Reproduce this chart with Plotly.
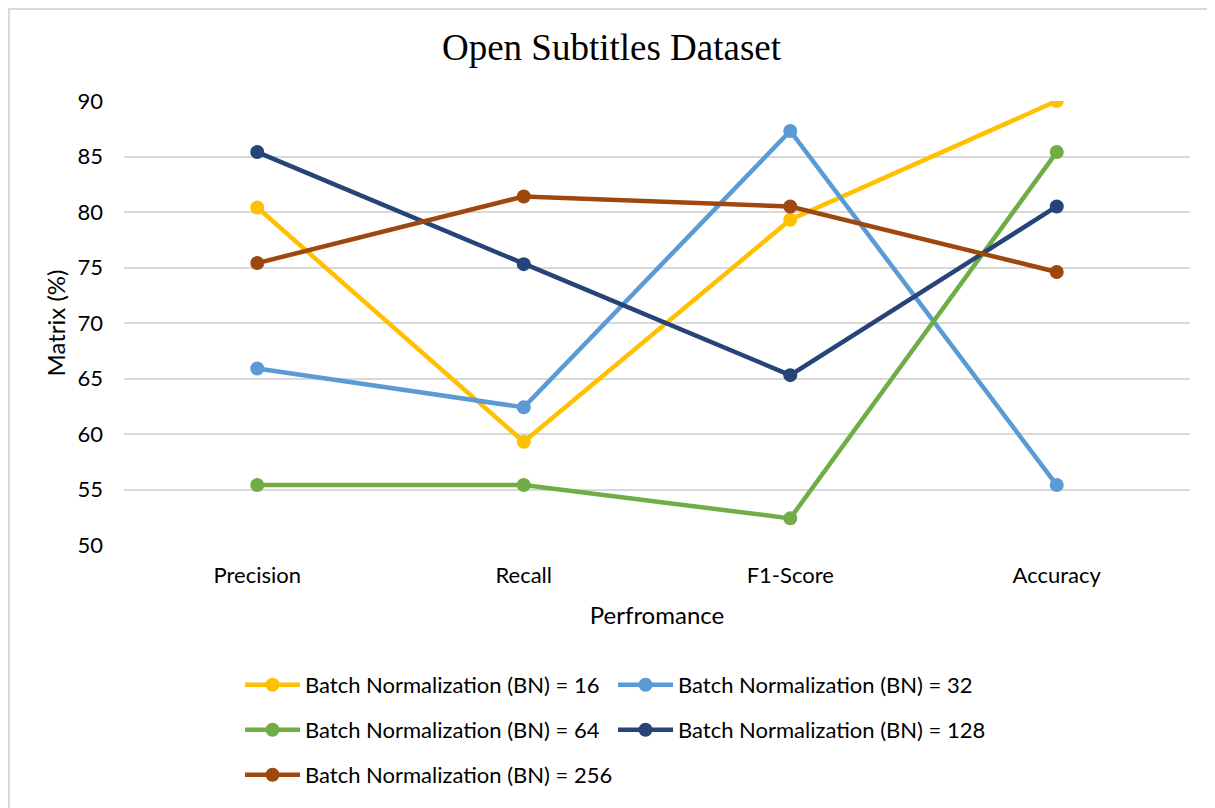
import plotly.graph_objects as go

# categorias do eixo x
metricas = ["Precision", "Recall", "F1-Score", "Accuracy"]

# valores (%)
bn_16 = [80.4, 59.3, 79.3, 90.0]
bn_32 = [65.9, 62.4, 87.3, 55.4]
bn_64 = [55.4, 55.4, 52.4, 85.4]
bn_128 = [85.4, 75.3, 65.3, 80.5]
bn_256 = [75.4, 81.4, 80.5, 74.6]

series = [
    ("Batch Normalization (BN) = 16", bn_16, "#FFC000", "legend"),
    ("Batch Normalization (BN) = 32", bn_32, "#5B9BD5", "legend"),
    ("Batch Normalization (BN) = 64", bn_64, "#70AD47", "legend2"),
    ("Batch Normalization (BN) = 128", bn_128, "#264478", "legend2"),
    ("Batch Normalization (BN) = 256", bn_256, "#9E480E", "legend3"),
]

fonte = "Lato, 'Open Sans', sans-serif"

fig = go.Figure()

for nome, valores, cor, leg in series:
    fig.add_trace(go.Scatter(
        x=metricas,
        y=valores,
        mode="lines+markers",
        name=nome,
        line=dict(color=cor, width=4.5),
        marker=dict(color=cor, size=14),
        legend=leg,
    ))

# a página tem margem de 8px; área do gráfico na janela: x 124..1190, y 101..545
def px_x(p):
    return (p - 124) / 1066

def px_y(p):
    return (545 - p) / 444

leg_base = dict(
    orientation="h",
    xanchor="left",
    yanchor="middle",
    font=dict(family=fonte, size=22, color="#000000"),
    bgcolor="rgba(0,0,0,0)",
    entrywidth=303,
    entrywidthmode="pixels",
    itemwidth=55,
)

fig.update_layout(
    width=1207,
    height=800,
    paper_bgcolor="white",
    plot_bgcolor="white",
    margin=dict(l=116, r=25, t=93, b=263),
    title=dict(
        text="Open Subtitles Dataset",
        x=0.5,
        xanchor="center",
        y=0.951,
        yanchor="middle",
        font=dict(family="'Liberation Serif', 'Times New Roman', serif", size=37, color="#000000"),
    ),
    xaxis=dict(
        title=dict(text="Perfromance", font=dict(family=fonte, size=24, color="#000000"), standoff=20),
        tickfont=dict(family=fonte, size=22, color="#000000"),
        showgrid=False,
        showline=False,
        ticks="",
        ticklabelstandoff=15,
        range=[-0.5, 3.5],
    ),
    yaxis=dict(
        title=dict(text="Matrix (%)", font=dict(family=fonte, size=24, color="#000000"), standoff=5),
        tickfont=dict(family=fonte, size=22, color="#000000"),
        range=[50, 90],
        dtick=5,
        showgrid=True,
        gridcolor="#D9D9D9",
        gridwidth=1.5,
        zeroline=False,
        showline=False,
        ticks="",
        ticklabelstandoff=20,
    ),
    legend=dict(x=px_x(240), y=px_y(685), **leg_base),
    legend2=dict(x=px_x(240), y=px_y(730), **leg_base),
    legend3=dict(x=px_x(240), y=px_y(775), **leg_base),
    showlegend=True,
)

# moldura do gráfico
fig.add_shape(
    type="rect",
    xref="paper", yref="paper",
    x0=px_x(9), x1=px_x(1240),
    y0=px_y(840), y1=px_y(9),
    line=dict(color="#D9D9D9", width=2),
    fillcolor="rgba(0,0,0,0)",
    layer="below",
)

fig.write_html("out.html")
